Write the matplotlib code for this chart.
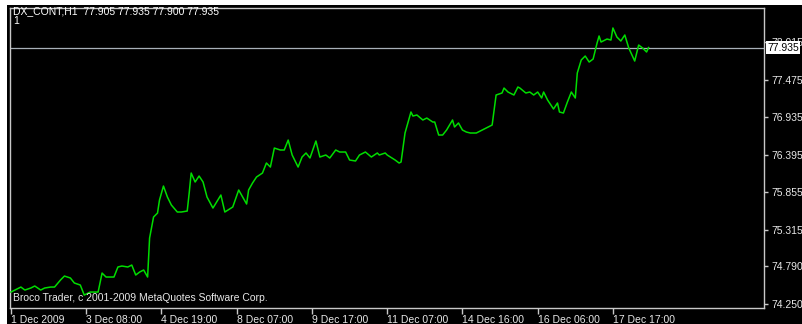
import matplotlib
matplotlib.use("Agg")
import matplotlib.pyplot as plt
from matplotlib.patches import Rectangle

# ---- data (hourly bar index, close price) ----
bars = [0, 1, 2, 5, 7, 10, 12, 15, 17, 20, 22, 25, 27, 30, 32, 35, 37, 40, 42, 44,
        46, 48, 52, 54, 56, 59, 61, 63, 65, 67, 69, 70, 72, 74, 75, 77, 79, 81, 84, 86,
        89, 90, 91, 93, 95, 97, 99, 102, 106, 108, 112, 115, 119, 120, 122, 124, 127, 129, 131, 133,
        136, 138, 140, 142, 145, 147, 149, 151, 154, 156, 159, 161, 164, 166, 169, 171, 174, 176, 179, 182,
        185, 186, 189, 190, 194, 196, 197, 199, 202, 203, 205, 208, 210, 213, 214, 216, 218, 220, 223, 224,
        226, 228, 230, 232, 235, 238, 240, 243, 245, 248, 249, 251, 254, 256, 257, 260, 262, 264, 266, 268,
        269, 271, 274, 276, 277, 279, 281, 283, 285, 286, 288, 290, 292, 294, 296, 297, 298, 301, 303, 304,
        306, 308, 310, 312, 315, 317, 319, 321, 322]
prices = [74.422, 74.437, 74.451, 74.494, 74.451, 74.480, 74.509, 74.451, 74.480, 74.494,
          74.494, 74.595, 74.652, 74.624, 74.552, 74.523, 74.379, 74.422, 74.422, 74.422,
          74.695, 74.638, 74.638, 74.782, 74.796, 74.782, 74.810, 74.667, 74.710, 74.739,
          74.638, 75.198, 75.500, 75.557, 75.744, 75.945, 75.787, 75.672, 75.572, 75.572,
          75.586, 75.845, 76.132, 76.003, 76.089, 76.003, 75.787, 75.629, 75.816, 75.572,
          75.644, 75.888, 75.687, 75.888, 75.989, 76.075, 76.132, 76.276, 76.218, 76.491,
          76.463, 76.463, 76.606, 76.391, 76.218, 76.362, 76.420, 76.348, 76.592, 76.362,
          76.391, 76.348, 76.463, 76.434, 76.434, 76.319, 76.305, 76.391, 76.434, 76.362,
          76.420, 76.391, 76.420, 76.391, 76.319, 76.276, 76.290, 76.707, 77.009, 76.951,
          76.966, 76.894, 76.922, 76.865, 76.865, 76.678, 76.678, 76.750, 76.894, 76.793,
          76.851, 76.750, 76.721, 76.707, 76.707, 76.750, 76.779, 76.822, 77.253, 77.282,
          77.353, 77.296, 77.253, 77.368, 77.353, 77.282, 77.296, 77.253, 77.296, 77.210,
          77.296, 77.181, 77.052, 77.138, 77.009, 76.994, 77.152, 77.296, 77.210, 77.569,
          77.756, 77.813, 77.727, 77.770, 78.000, 78.101, 78.014, 78.057, 78.043, 78.216,
          78.086, 78.029, 78.115, 77.928, 77.741, 77.971, 77.928, 77.871, 77.935]

x_tick_bars = [0, 38, 76, 114, 152, 190, 228, 266, 304]
x_tick_labels = ["1 Dec 2009", "3 Dec 08:00", "4 Dec 19:00", "8 Dec 07:00", "9 Dec 17:00",
                 "11 Dec 07:00", "14 Dec 16:00", "16 Dec 06:00", "17 Dec 17:00"]
y_ticks = [74.250, 74.790, 75.315, 75.855, 76.395, 76.935, 77.475, 78.015]
y_tick_labels = ["74.250", "74.790", "75.315", "75.855", "76.395", "76.935", "77.475", "78.015"]
last_price = 77.935
header = "DX_CONT,H1  77.905 77.935 77.900 77.935"
watermark = "Broco Trader, c 2001-2009 MetaQuotes Software Corp."

W, H = 803, 324
plt.rcParams['font.family'] = ['Liberation Sans', 'DejaVu Sans']
fig = plt.figure(figsize=(W / 100, H / 100), dpi=100, facecolor="white")

# black terminal panel (behind the axes)
fig.patches.append(Rectangle((7 / W, 0), 1 - 7 / W, 1 - 5 / H, transform=fig.transFigure,
                             facecolor="black", edgecolor="none", zorder=-10))

ax = fig.add_axes([10 / W, (H - 308) / H, (764 - 10) / W, (308 - 8) / H])
ax.set_facecolor("black")
border = "#c8c8c8"
for s in ax.spines.values():
    s.set_color(border)
    s.set_linewidth(1.0)

ax.plot(bars, prices, color="#00dd00", lw=1.1, zorder=3)
ax.axhline(last_price, color="#a8b0b8", lw=0.9, zorder=2)

ax.set_xlim(-0.5, 380.3)
ax.set_ylim(74.193, 78.503)

ax.yaxis.tick_right()
ax.set_yticks(y_ticks)
ax.set_yticklabels(y_tick_labels)
ax.set_xticks(x_tick_bars)
ax.set_xticklabels(x_tick_labels)
for lbl in ax.get_xticklabels():
    lbl.set_ha("left")
ax.tick_params(axis="y", direction="out", length=3, width=1, color=border,
               labelcolor="#e8e8e8", labelsize=7.5, pad=2)
ax.tick_params(axis="x", direction="out", length=4, width=1, color=border,
               labelcolor="#e8e8e8", labelsize=7.5, pad=1)

# header and watermark
fig.text(13 / W, 1 - 11 / H, header, color="white", fontsize=7.5, va="center", ha="left")
fig.text(13 / W, 1 - 21 / H, "1", color="white", fontsize=7.5, va="center", ha="left")
fig.text(13 / W, 1 - 298 / H, watermark, color="#e8e8e8", fontsize=7.5, va="center", ha="left")

# current price box on the right axis
yb = ax.transData.transform((0, last_price))[1] / H
fig.text(767 / W, yb, f"{last_price:.3f}", color="black", fontsize=7.5, va="center", ha="left",
         bbox=dict(boxstyle="square,pad=0.12", facecolor="white", edgecolor="none"), zorder=5)

fig.savefig("out.png", dpi=100, facecolor="white")
